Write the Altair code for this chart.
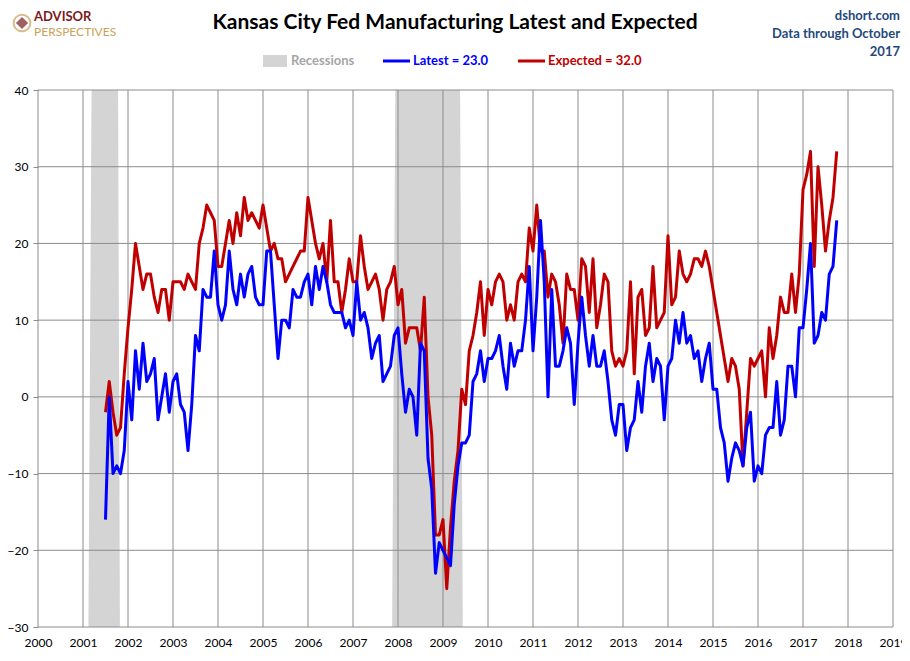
import altair as alt
import pandas as pd

# ---------------- data (monthly, Jul 2001 - Oct 2017) ----------------
START_YEAR, START_MONTH = 2001, 7

latest = [
    # 2001 Jul-Dec
    -16, 0, -10, -9, -10, -7,
    # 2002
    2, -3, 6, 1, 7, 2, 3, 5, -3, 0, 3, -2,
    # 2003
    2, 3, -1, -2, -7, -1, 8, 6, 14, 13, 13, 19,
    # 2004
    12, 10, 12, 19, 14, 12, 16, 13, 16, 17, 13, 12,
    # 2005
    12, 19, 19, 12, 5, 10, 10, 9, 14, 13, 13, 15,
    # 2006
    16, 12, 17, 14, 17, 15, 12, 11, 11, 11, 9, 10,
    # 2007
    8, 15, 10, 11, 9, 5, 7, 8, 2, 3, 4, 8,
    # 2008
    9, 3, -2, 1, 0, -5, 7, 6, -8, -12, -23, -19,
    # 2009
    -20, -21, -22, -14, -9, -6, -6, -5, 2, 3, 6, 2,
    # 2010
    5, 5, 6, 8, 4, 1, 7, 4, 6, 6, 10, 17,
    # 2011
    6, 13, 23, 15, 0, 14, 4, 4, 6, 9, 7, -1,
    # 2012
    7, 13, 8, 4, 8, 4, 4, 6, 2, -3, -5, -1,
    # 2013
    -1, -7, -4, -3, 2, -2, 4, 7, 2, 5, 4, -3,
    # 2014
    4, 5, 10, 7, 11, 7, 8, 5, 6, 2, 5, 7,
    # 2015
    1, 1, -4, -6, -11, -8, -6, -7, -9, -4, -2, -11,
    # 2016
    -9, -10, -5, -4, -4, 2, -5, -3, 4, 4, 0, 9,
    # 2017 Jan-Oct
    9, 14, 20, 7, 8, 11, 10, 16, 17, 23,
]

expected = [
    # 2001 Jul-Dec
    -2, 2, -2, -5, -4, 3,
    # 2002
    9, 14, 20, 17, 14, 16, 16, 13, 11, 14, 14, 10,
    # 2003
    15, 15, 15, 14, 16, 15, 14, 20, 22, 25, 24, 23,
    # 2004
    17, 17, 20, 23, 20, 24, 21, 26, 23, 24, 23, 22,
    # 2005
    25, 22, 19, 20, 18, 18, 15, 16, 17, 18, 19, 19,
    # 2006
    26, 23, 20, 18, 20, 15, 23, 15, 15, 11, 14, 18,
    # 2007
    15, 15, 21, 17, 14, 15, 16, 14, 10, 14, 15, 17,
    # 2008
    12, 14, 7, 9, 9, 9, 6, 13, 0, -5, -18, -18,
    # 2009
    -16, -25, -17, -11, -7, 1, -1, 6, 8, 11, 15, 8,
    # 2010
    14, 12, 15, 16, 15, 10, 12, 10, 15, 16, 15, 22,
    # 2011
    19, 25, 19, 19, 13, 16, 15, 12, 7, 16, 14, 14,
    # 2012
    10, 18, 17, 11, 18, 9, 12, 16, 15, 6, 4, 5,
    # 2013
    4, 6, 15, 3, 13, 14, 8, 9, 17, 9, 10, 11,
    # 2014
    21, 12, 13, 19, 16, 15, 16, 18, 18, 17, 19, 17,
    # 2015
    14, 11, 8, 5, 2, 5, 4, 1, -9, -2, 5, 4,
    # 2016
    5, 6, 0, 9, 5, 8, 13, 11, 11, 16, 11, 16,
    # 2017 Jan-Oct
    27, 29, 32, 17, 30, 25, 19, 23, 26, 32,
]

# recession bands (decimal years; edges slightly sloped as in the original)
rec_name = ["2001", "2001", "2008", "2008"]
rec_y = [40, -30, 40, -30]
rec_left = [2001.19, 2001.12, 2007.94, 2007.87]
rec_right = [2001.78, 2001.82, 2009.38, 2009.44]

year_ticks = list(range(2000, 2020))
y_ticks = list(range(-30, 41, 10))

# ---------------- tables ----------------
n = len(latest)
t = [START_YEAR + (START_MONTH - 1 + i) / 12 for i in range(n)]
df_latest = pd.DataFrame({"t": t, "value": latest})
df_expected = pd.DataFrame({"t": t, "value": expected})
df_rec = pd.DataFrame({"name": rec_name, "yv": rec_y, "x0": rec_left, "x1": rec_right})
df_vgrid = pd.DataFrame({"year": year_ticks})
df_hgrid = pd.DataFrame({"v": y_ticks})

FONT = "Lato"
GRID = "#8c8c8c"
BLUE = "#0000FF"
RED = "#C00000"

xscale = alt.Scale(domain=[2000, 2019], nice=False, zero=False)
yscale = alt.Scale(domain=[-30, 40], nice=False, zero=False)
xaxis = alt.Axis(values=year_ticks, format="d", title=None, grid=False, domain=False,
                 ticks=False, labelPadding=10, labelFont=FONT, labelFontSize=12,
                 labelColor="#000000", labelFlush=False, labelOverlap=False)
yaxis = alt.Axis(values=y_ticks, title=None, grid=False, domain=False, ticks=True,
                 tickSize=5, tickColor=GRID, labelPadding=5, labelFont=FONT,
                 labelFontSize=12, labelColor="#000000")


def X(field):
    return alt.X(field, type="quantitative", scale=xscale, axis=xaxis)


def Y(field):
    return alt.Y(field, type="quantitative", scale=yscale, axis=yaxis)


recess = alt.Chart(df_rec).mark_area(orient="horizontal", color="#D4D4D4", opacity=1).encode(
    y=Y("yv"), x=X("x0"), x2="x1", detail="name:N"
)

vgrid = alt.Chart(df_vgrid).mark_rule(color=GRID, strokeWidth=1).encode(x=X("year"))
hgrid = alt.Chart(df_hgrid).mark_rule(color=GRID, strokeWidth=1).encode(y=Y("v"))

line_exp = alt.Chart(df_expected).mark_line(color=RED, strokeWidth=3, strokeJoin="round").encode(
    x=X("t"), y=Y("value")
)
line_lat = alt.Chart(df_latest).mark_line(color=BLUE, strokeWidth=3, strokeJoin="round").encode(
    x=X("t"), y=Y("value")
)


def text(txt, x, y, size, color, weight="normal", align="left"):
    return alt.Chart(pd.DataFrame({"label": [txt]})).mark_text(
        font=FONT, fontSize=size, color=color, fontWeight=weight, align=align, baseline="middle"
    ).encode(text="label:N", x=alt.value(x), y=alt.value(y))


def hline(x1, x2, y, color, width):
    return alt.Chart(pd.DataFrame({"k": [0]})).mark_rule(color=color, strokeWidth=width).encode(
        x=alt.value(x1), x2=alt.value(x2), y=alt.value(y)
    )


title = text("Kansas City Fed Manufacturing Latest and Expected", 417, -67, 21, "#000000", "bold", "center")

logo_ring = alt.Chart(pd.DataFrame({"k": [0]})).mark_point(
    shape="circle", size=280, color="#C9A25A", strokeWidth=2, filled=False
).encode(x=alt.value(-16), y=alt.value(-67))
logo_star = alt.Chart(pd.DataFrame({"k": [0]})).mark_point(
    shape="diamond", size=150, color="#7B1B1B", filled=True
).encode(x=alt.value(-16), y=alt.value(-67))
logo1 = text("ADVISOR", -4, -73, 13, "#7B1B1B", "bold")
logo2 = text("PERSPECTIVES", -4, -58, 12, "#C9A25A", "normal")

src1 = text("dshort.com", 862, -74, 13, "#1F497D", "bold", "right")
src2 = text("Data through October", 862, -56, 13, "#1F497D", "bold", "right")
src3 = text("2017", 862, -38, 13, "#1F497D", "bold", "right")

leg_rect = alt.Chart(pd.DataFrame({"k": [0]})).mark_rect(color="#D4D4D4").encode(
    x=alt.value(225), x2=alt.value(249), y=alt.value(-35), y2=alt.value(-23)
)
leg_rect_t = text("Recessions", 253, -29, 13, "#A6A6A6", "bold")
leg_blue = hline(345, 372, -29, BLUE, 3)
leg_blue_t = text(f"Latest = {latest[-1]:.1f}", 375, -29, 13, BLUE, "bold")
leg_red = hline(480, 507, -29, RED, 3)
leg_red_t = text(f"Expected = {expected[-1]:.1f}", 510, -29, 13, RED, "bold")

chart = alt.layer(
    recess, vgrid, hgrid, line_exp, line_lat,
    title, logo_ring, logo_star, logo1, logo2, src1, src2, src3,
    leg_rect, leg_rect_t, leg_blue, leg_blue_t, leg_red, leg_red_t,
).properties(
    width=855, height=537,
    padding={"left": 30, "top": 82, "right": 9, "bottom": 26},
    autosize=alt.AutoSizeParams(type="none"),
    background="white",
).configure_view(stroke=None)

chart.save("out.html", embed_options={"renderer": "svg", "actions": False})
